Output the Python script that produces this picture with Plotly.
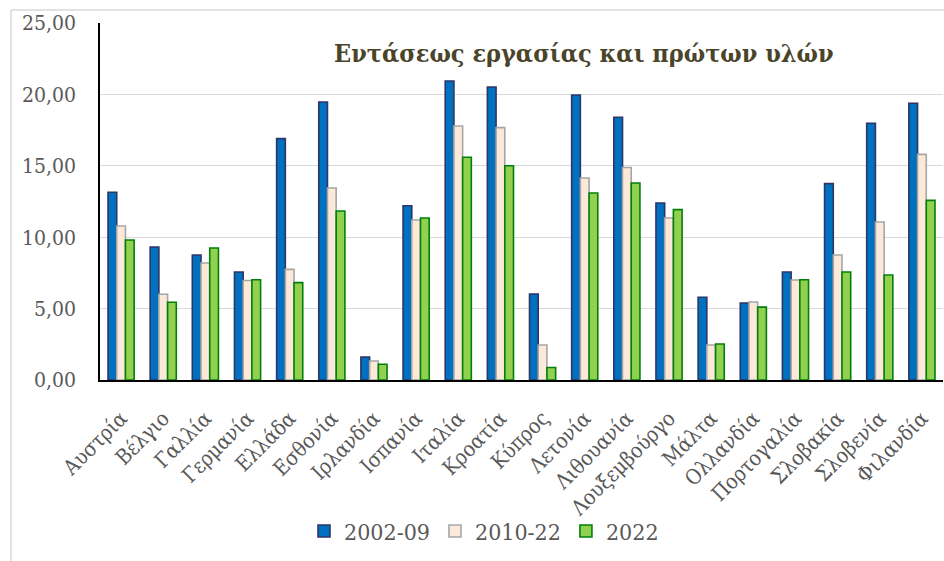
import plotly.graph_objects as go

countries = ["Αυστρία", "Βέλγιο", "Γαλλία", "Γερμανία", "Ελλάδα", "Εσθονία", "Ιρλανδία",
             "Ισπανία", "Ιταλία", "Κροατία", "Κύπρος", "Λετονία", "Λιθουανία", "Λουξεμβούργο",
             "Μάλτα", "Ολλανδία", "Πορτογαλία", "Σλοβακία", "Σλοβενία", "Φιλανδία"]
v2002_09 = [13.15, 9.31, 8.75, 7.56, 16.90, 19.47, 1.60, 12.20, 20.94, 20.52, 6.02,
            19.96, 18.40, 12.40, 5.80, 5.39, 7.56, 13.75, 17.98, 19.38]
v2010_22 = [10.78, 6.00, 8.19, 6.97, 7.75, 13.45, 1.33, 11.20, 17.79, 17.67, 2.45,
            14.15, 14.88, 11.34, 2.45, 5.46, 7.00, 8.75, 11.06, 15.80]
v2022 = [9.80, 5.44, 9.24, 7.02, 6.82, 11.83, 1.10, 11.34, 15.60, 15.00, 0.88,
         13.10, 13.80, 11.93, 2.52, 5.10, 7.02, 7.56, 7.35, 12.58]
series_names = ["2002-09", "2010-22", "2022"]
y_ticks = [0, 5, 10, 15, 20, 25]

FONT = "DejaVu Serif Condensed"
TEXT_GREY = "#595959"

fig = go.Figure()
styles = [("#0070C0", "#2E3567"), ("#FDE9D9", "#A6A6A6"), ("#92D050", "#00800A")]
for name, vals, (fill, edge) in zip(series_names, [v2002_09, v2010_22, v2022], styles):
    fig.add_trace(go.Bar(
        x=countries, y=vals, name=name,
        marker=dict(color=fill, line=dict(color=edge, width=1.6)),
    ))

W, H = 944, 561
L, R, T, B = 100, 1, 23, 181
pw, ph = W - L - R, H - T - B

def px_x(x):
    return (x - L) / pw

def px_y(y):
    return (H - B - y) / ph

fig.update_layout(
    width=W, height=H,
    margin=dict(l=L, r=R, t=T, b=B, pad=0),
    paper_bgcolor="white", plot_bgcolor="white",
    separators=",.",
    barmode="group", bargap=0.38, bargroupgap=0.0,
    font=dict(family=FONT, size=18, color=TEXT_GREY),
    showlegend=True,
    legend=dict(orientation="h", x=px_x(484), y=px_y(531), xanchor="center", yanchor="middle",
                font=dict(family=FONT, size=23, color=TEXT_GREY),
                itemwidth=30, tracegroupgap=0, bgcolor="rgba(0,0,0,0)"),
    xaxis=dict(tickangle=-45, showline=True, linecolor="black", linewidth=1.5,
               ticks="", ticklabelstandoff=16,
               tickfont=dict(family=FONT, size=21, color=TEXT_GREY),
               showgrid=False),
    yaxis=dict(range=[0, 25], tickvals=y_ticks, tickformat=".2f",
               showline=True, linecolor="black", linewidth=1.5,
               gridcolor="#D9D9D9", gridwidth=1.2, ticks="", ticklabelstandoff=18,
               tickfont=dict(family=FONT, size=21, color=TEXT_GREY), zeroline=False),
    annotations=[dict(
        text="<b>Εντάσεως εργασίας και πρώτων υλών</b>",
        xref="paper", yref="paper", x=px_x(584), y=px_y(53),
        xanchor="center", yanchor="middle", showarrow=False,
        font=dict(family=FONT, size=25, color="#4A4429"),
    )],
    shapes=[
        dict(type="line", xref="paper", yref="paper", x0=px_x(11), x1=px_x(11),
             y0=px_y(10), y1=px_y(570), line=dict(color="#D9D9D9", width=1.5)),
        dict(type="line", xref="paper", yref="paper", x0=px_x(11), x1=px_x(950),
             y0=px_y(10), y1=px_y(10), line=dict(color="#D9D9D9", width=1.5)),
    ],
)

fig.write_html("out.html")
